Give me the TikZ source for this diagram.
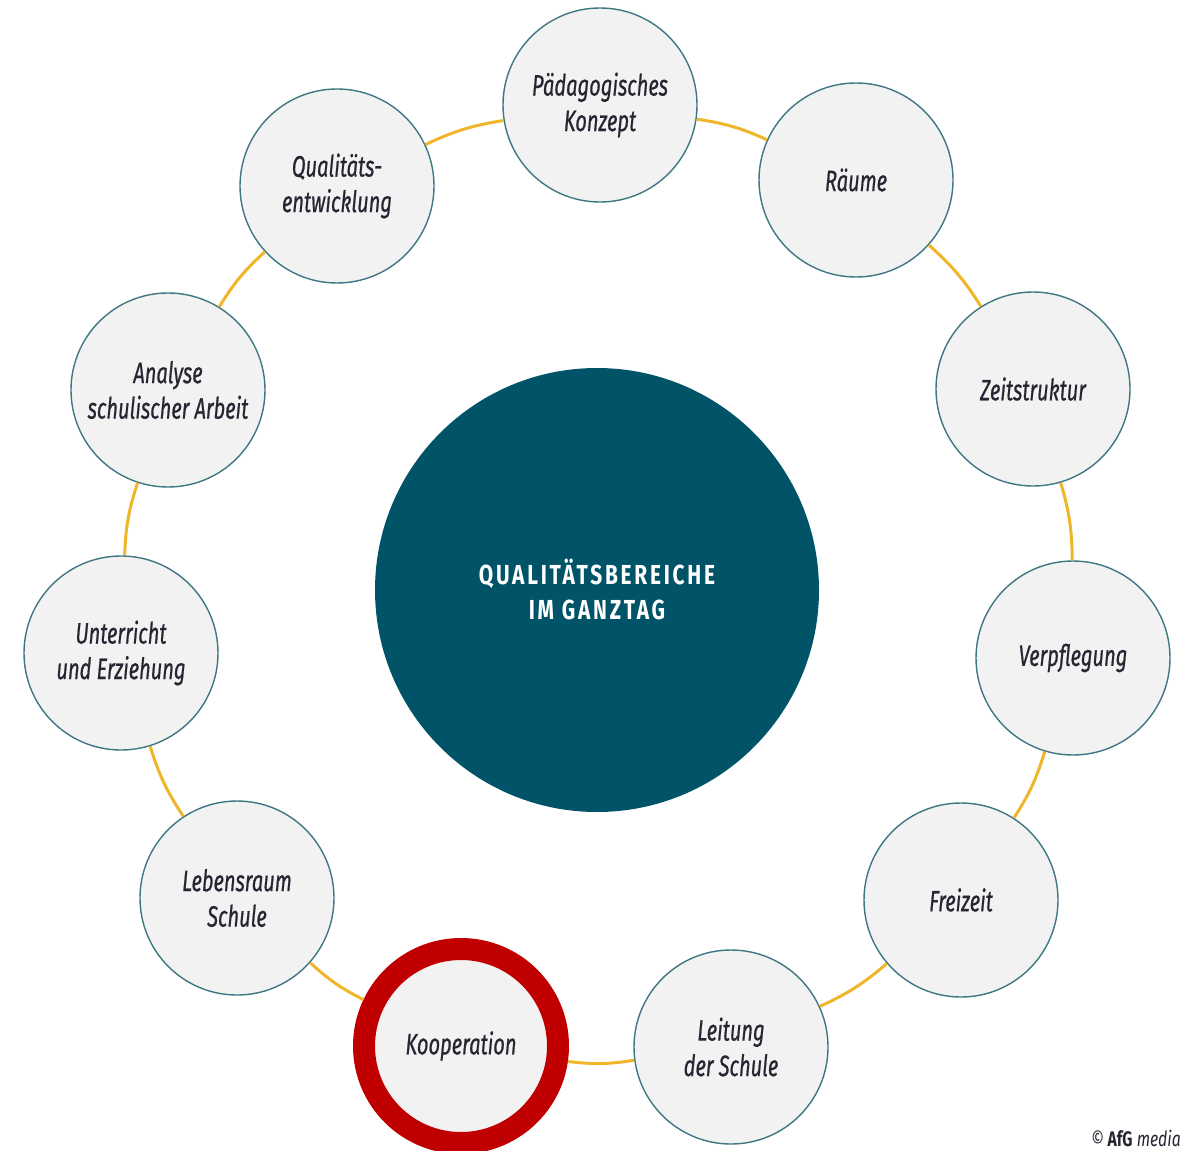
\documentclass[tikz,border=0pt]{standalone}
\usepackage{fontspec}
\setmainfont{Fira Sans}
\newfontfamily\condit{Fira Sans}[FakeStretch=0.68,FakeBold=0.6]
\newfontfamily\condbf{Fira Sans}[FakeStretch=0.76,LetterSpace=10]
\newfontfamily\copyf{Fira Sans}[FakeStretch=0.75]
\definecolor{cfill}{HTML}{F2F2F2}
\definecolor{cborder}{HTML}{3E7682}
\definecolor{cyel}{HTML}{F0B62A}
\definecolor{cred}{HTML}{C00000}
\definecolor{ccenter}{HTML}{015468}
\definecolor{ctxt}{HTML}{262633}
\tikzset{
  circ/.style={circle, draw=cborder, line width=1.4pt, fill=cfill, minimum size=194pt,
    inner sep=0pt, align=center, text=ctxt,
    font=\condit\itshape\fontsize{29.5}{35.5}\selectfont},
  redcirc/.style={circ, draw=cred, line width=22pt},
  conn/.style={draw=cyel, line width=3pt},
}
\begin{document}
\begin{tikzpicture}[x=1pt,y=-1pt]
\useasboundingbox (0,0) rectangle (1182,1150);
\node[circle, fill=ccenter, minimum size=444pt, inner sep=0pt, align=center, text=white,
  font=\condbf\bfseries\fontsize{27.5}{35}\selectfont] (center) at (597,590) {QUALITÄTSBEREICHE\\IM GANZTAG};
\node[circ] (pk) at (600,105) {Pädagogisches\\Konzept};
\node[circ] (ra) at (856,180) {Räume};
\node[circ] (zs) at (1033,389) {Zeitstruktur};
\node[circ] (vp) at (1073,658) {Verpflegung};
\node[circ] (fz) at (961,900) {Freizeit};
\node[circ] (ls) at (731,1047) {Leitung\\der Schule};
\node[redcirc] (ko) at (461,1046) {Kooperation};
\node[circ] (lr) at (237,898) {Lebensraum\\Schule};
\node[circ] (ue) at (121,653) {Unterricht\\und Erziehung};
\node[circ] (an) at (168,390) {Analyse\\schulischer Arbeit};
\node[circ] (qe) at (337,186) {Qualitäts-\\entwicklung};
\path[conn] (pk) to[bend left=8] (ra);
\path[conn] (ra) to[bend left=8] (zs);
\path[conn] (zs) to[bend left=8] (vp);
\path[conn] (vp) to[bend left=8] (fz);
\path[conn] (fz) to[bend left=8] (ls);
\path[conn] (ls) to[bend left=8] (ko);
\path[conn] (ko) to[bend left=8] (lr);
\path[conn] (lr) to[bend left=8] (ue);
\path[conn] (ue) to[bend left=8] (an);
\path[conn] (an) to[bend left=8] (qe);
\path[conn] (qe) to[bend left=8] (pk);
\node[anchor=east, inner sep=0pt, text=ctxt, font=\copyf\fontsize{21}{24}\selectfont] (copy) at (1181,1138) {©\,{\bfseries AfG} {\itshape media}};
\end{tikzpicture}
\end{document}
